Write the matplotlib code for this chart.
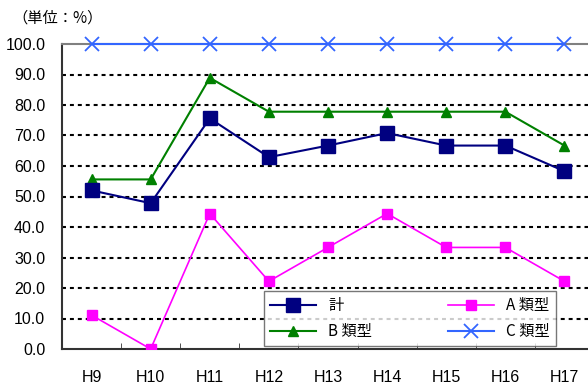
import matplotlib.pyplot as plt
from matplotlib.ticker import MultipleLocator, FixedLocator

years = ["H9", "H10", "H11", "H12", "H13", "H14", "H15", "H16", "H17"]
total = [52.0, 47.8, 75.6, 62.9, 66.7, 70.8, 66.7, 66.7, 58.3]
type_a = [11.1, 0.0, 44.4, 22.2, 33.3, 44.4, 33.3, 33.3, 22.2]
type_b = [55.6, 55.6, 88.9, 77.8, 77.8, 77.8, 77.8, 77.8, 66.7]
type_c = [100.0, 100.0, 100.0, 100.0, 100.0, 100.0, 100.0, 100.0, 100.0]

plt.rcParams['font.family'] = ['Liberation Sans', 'Noto Sans CJK JP', 'DejaVu Sans']

fig = plt.figure(figsize=(5.88, 3.85), dpi=100)
ax = fig.add_axes([62 / 588, 36 / 385, 532 / 588, 305 / 385])

x = range(len(years))
l_total, = ax.plot(x, total, color="#000080", lw=1.5, marker="s", ms=9.5, label="計", zorder=5)
l_a, = ax.plot(x, type_a, color="#ff00ff", lw=1.2, marker="s", ms=6.5, label="A 類型", zorder=4)
l_b, = ax.plot(x, type_b, color="#008000", lw=1.5, marker="^", ms=7.5, label="B 類型", zorder=4)
l_c, = ax.plot(x, type_c, color="#3366ff", lw=1.5, marker="x", ms=10, mew=1.3, label="C 類型",
               zorder=4, clip_on=False)

ax.set_xlim(-0.5, len(years) - 0.5)
ax.set_ylim(0, 100)
ax.yaxis.set_major_locator(MultipleLocator(10))
ax.set_yticklabels([f"{v:.1f}" for v in ax.get_yticks()])
ax.set_xticks(list(x))
ax.set_xticklabels(years)
ax.xaxis.set_minor_locator(FixedLocator([i + 0.5 for i in range(len(years) - 1)]))
ax.tick_params(axis="x", which="major", length=0, pad=15, labelsize=11.5)
ax.tick_params(axis="x", which="minor", direction="in", length=4, color="#333333")
ax.tick_params(axis="y", direction="in", length=0, pad=12, labelsize=11.5)

# dotted grid
for y in range(10, 100, 10):
    ax.axhline(y, color="black", lw=1.5, ls=(0, (1.9, 1.9)), zorder=1)

ax.spines["right"].set_visible(False)
ax.spines["top"].set_color("#808080")
ax.spines["top"].set_linewidth(1.5)
ax.spines["left"].set_color("#333333")
ax.spines["left"].set_linewidth(1.5)
ax.spines["bottom"].set_color("#333333")
ax.spines["bottom"].set_linewidth(1.5)

leg = ax.legend([l_total, l_b, l_a, l_c], ["計", "B 類型", "A 類型", "C 類型"],
                ncol=2, loc="lower left",
                bbox_to_anchor=(202 / 532, 3 / 305, 292 / 532, 53 / 305),
                mode="expand", borderaxespad=0, frameon=True, fancybox=False,
                edgecolor="#555555", handlelength=3.0, borderpad=0.4, labelspacing=0.55,
                columnspacing=2.0, prop={"family": ["Noto Sans CJK JP"], "size": 11})
leg.get_frame().set_linewidth(1.0)
leg.set_zorder(10)

fig.text(12 / 588, 1 - 18 / 385, "（単位：%）", fontsize=11, va="center", ha="left",
         family=["Noto Sans CJK JP"])

fig.savefig("out.png", dpi=100)
